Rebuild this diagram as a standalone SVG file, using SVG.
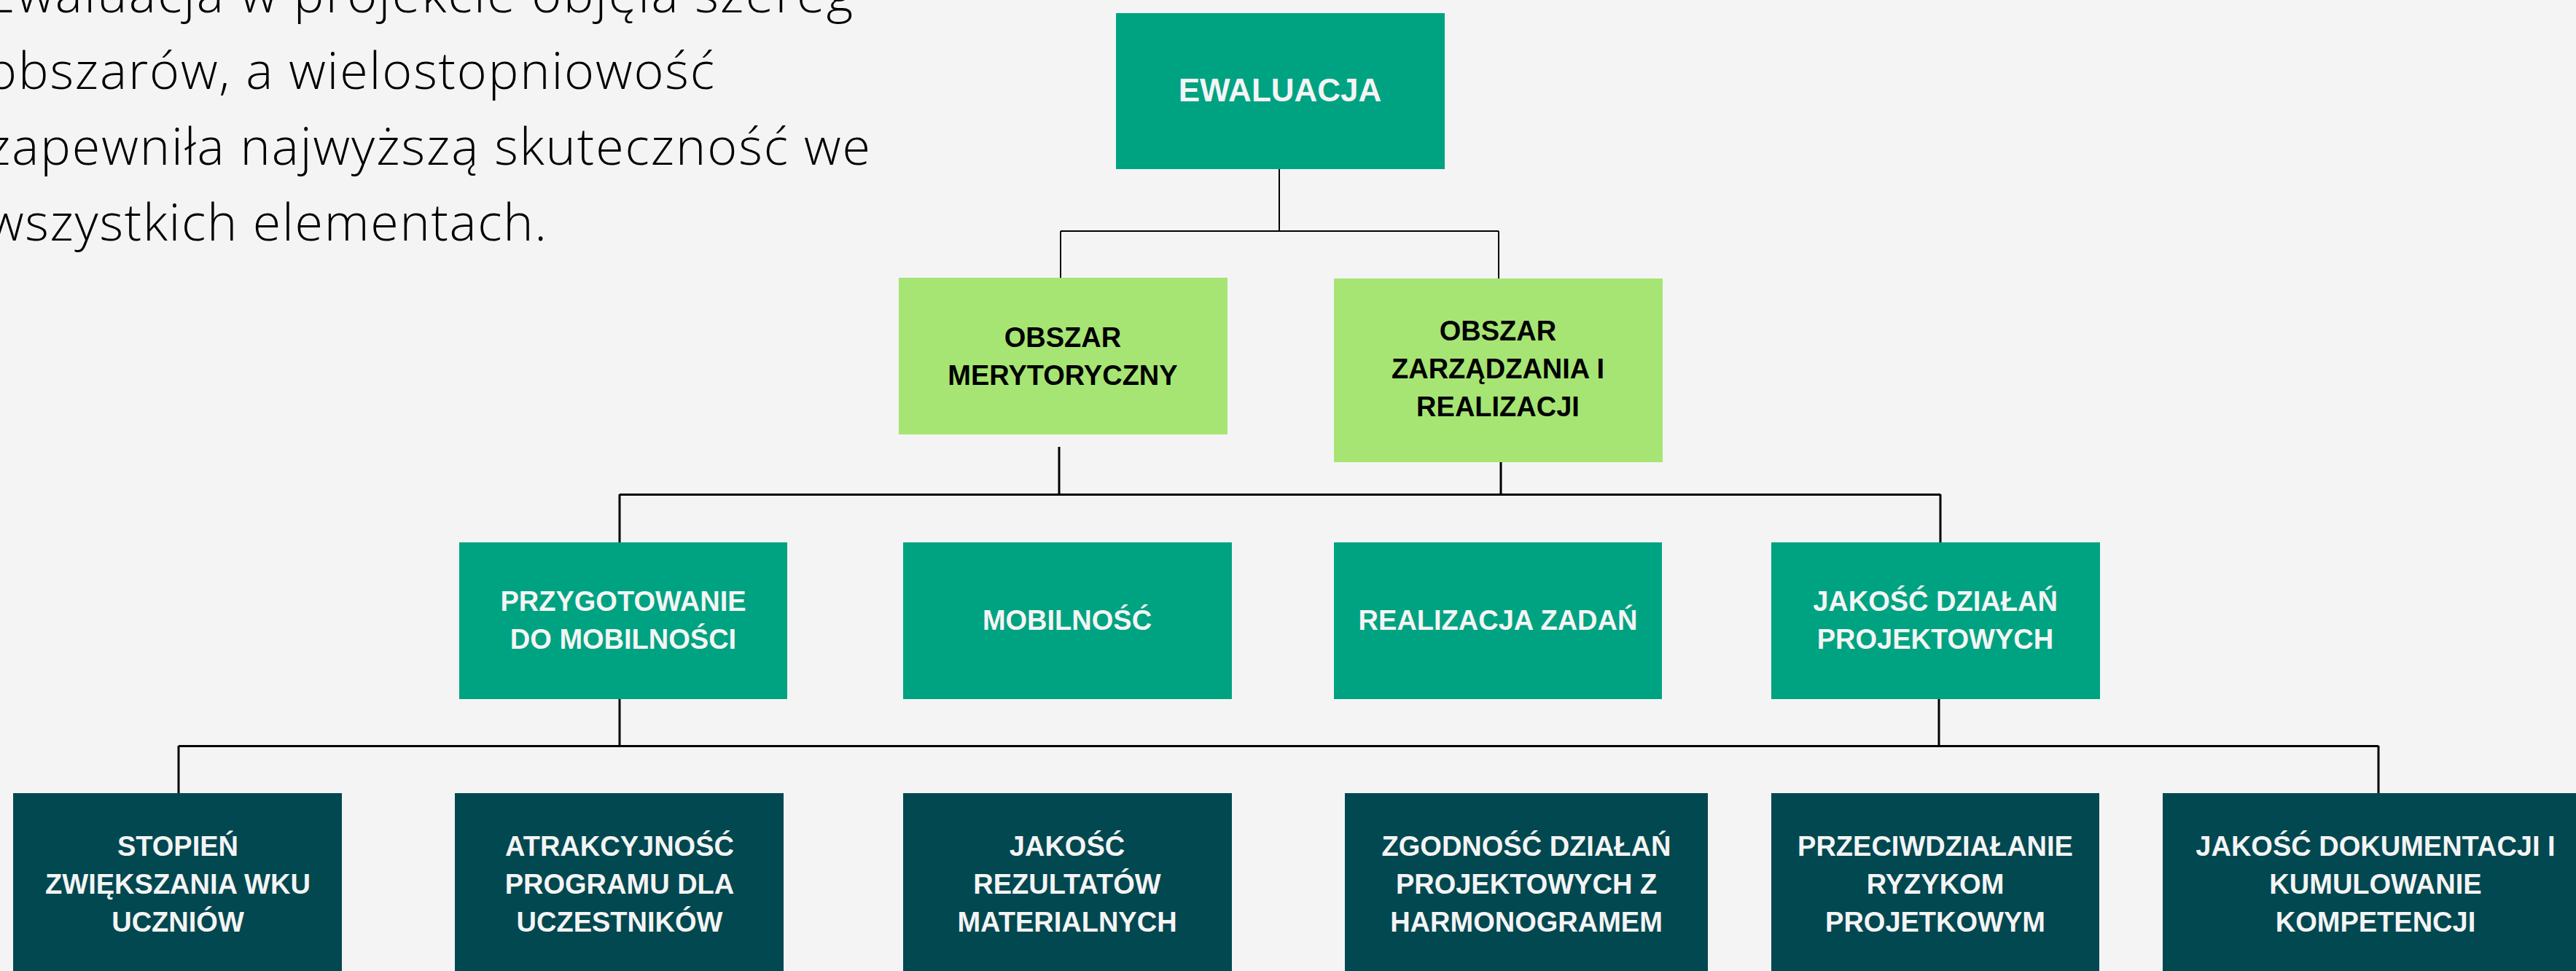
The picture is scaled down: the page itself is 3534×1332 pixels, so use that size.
<svg xmlns="http://www.w3.org/2000/svg" width="3534" height="1332" viewBox="0 0 3534 1332">
<style>
.bg{fill:#F4F4F4}
.teal{fill:#00A381}
.lime{fill:#A6E573}
.dark{fill:#024850}
.lbl{font-family:"Liberation Sans",Arial,sans-serif;font-weight:700;font-size:38px;text-anchor:middle}
.w{fill:#F4F4F4}
.k{fill:#000}
.para{font-family:"Open Sans","Noto Sans",sans-serif;font-weight:300;font-size:70px;fill:#000}
.c1{stroke:#000;stroke-width:2;fill:none}
.c2{stroke:#000;stroke-width:3;fill:none}
</style>
<rect class="bg" x="0" y="0" width="3534" height="1332"/>
<g id="intro">
<text class="para" x="-18" y="17" textLength="1188" lengthAdjust="spacing">Ewaluacja w projekcie objęła szereg</text>
<text class="para" x="-18" y="122" textLength="998" lengthAdjust="spacing">obszarów, a wielostopniowość</text>
<text class="para" x="-18" y="226" textLength="1212" lengthAdjust="spacing">zapewniła najwyższą skuteczność we</text>
<text class="para" x="-18" y="330" textLength="768" lengthAdjust="spacing">wszystkich elementach.</text>
</g>
<g id="connectors">
<path class="c1" d="M1755 232V317M1455 317H2056M1455 317V381M2056 317V382"/>
<path class="c2" d="M1453 613V678M2059 634V678M850 678.5H2662M850 678V744M2662 678V744"/>
<path class="c2" d="M850 959V1023M2660 959V1023M245 1023.5H3263M245 1023V1088M3263 1023V1088"/>
</g>
<g id="ewaluacja">
<rect class="teal" x="1531" y="18" width="451" height="214"/>
<text class="lbl w" x="1756" y="139" style="font-size:44px">EWALUACJA</text>
</g>
<g id="obszar-merytoryczny">
<rect class="lime" x="1233" y="381" width="451" height="215"/>
<text class="lbl k" x="1458" y="476">OBSZAR</text>
<text class="lbl k" x="1458" y="528">MERYTORYCZNY</text>
</g>
<g id="obszar-zarzadzania">
<rect class="lime" x="1830" y="382" width="451" height="252"/>
<text class="lbl k" x="2055" y="467">OBSZAR</text>
<text class="lbl k" x="2055" y="519">ZARZĄDZANIA I</text>
<text class="lbl k" x="2055" y="571">REALIZACJI</text>
</g>
<g id="przygotowanie">
<rect class="teal" x="630" y="744" width="450" height="215"/>
<text class="lbl w" x="855" y="838">PRZYGOTOWANIE</text>
<text class="lbl w" x="855" y="890">DO MOBILNOŚCI</text>
</g>
<g id="mobilnosc">
<rect class="teal" x="1239" y="744" width="451" height="215"/>
<text class="lbl w" x="1464" y="864">MOBILNOŚĆ</text>
</g>
<g id="realizacja-zadan">
<rect class="teal" x="1830" y="744" width="450" height="215"/>
<text class="lbl w" x="2055" y="864">REALIZACJA ZADAŃ</text>
</g>
<g id="jakosc-dzialan">
<rect class="teal" x="2430" y="744" width="451" height="215"/>
<text class="lbl w" x="2655" y="838">JAKOŚĆ DZIAŁAŃ</text>
<text class="lbl w" x="2655" y="890">PROJEKTOWYCH</text>
</g>
<g id="stopien">
<rect class="dark" x="18" y="1088" width="451" height="260"/>
<text class="lbl w" x="244" y="1174">STOPIEŃ</text>
<text class="lbl w" x="244" y="1226">ZWIĘKSZANIA WKU</text>
<text class="lbl w" x="244" y="1278">UCZNIÓW</text>
</g>
<g id="atrakcyjnosc">
<rect class="dark" x="624" y="1088" width="451" height="260"/>
<text class="lbl w" x="850" y="1174">ATRAKCYJNOŚĆ</text>
<text class="lbl w" x="850" y="1226">PROGRAMU DLA</text>
<text class="lbl w" x="850" y="1278">UCZESTNIKÓW</text>
</g>
<g id="jakosc-rezultatow">
<rect class="dark" x="1239" y="1088" width="451" height="260"/>
<text class="lbl w" x="1464" y="1174">JAKOŚĆ</text>
<text class="lbl w" x="1464" y="1226">REZULTATÓW</text>
<text class="lbl w" x="1464" y="1278">MATERIALNYCH</text>
</g>
<g id="zgodnosc">
<rect class="dark" x="1845" y="1088" width="498" height="260"/>
<text class="lbl w" x="2094" y="1174">ZGODNOŚĆ DZIAŁAŃ</text>
<text class="lbl w" x="2094" y="1226">PROJEKTOWYCH Z</text>
<text class="lbl w" x="2094" y="1278">HARMONOGRAMEM</text>
</g>
<g id="przeciwdzialanie">
<rect class="dark" x="2430" y="1088" width="450" height="260"/>
<text class="lbl w" x="2655" y="1174">PRZECIWDZIAŁANIE</text>
<text class="lbl w" x="2655" y="1226">RYZYKOM</text>
<text class="lbl w" x="2655" y="1278">PROJETKOWYM</text>
</g>
<g id="jakosc-dokumentacji">
<rect class="dark" x="2967" y="1088" width="584" height="260"/>
<text class="lbl w" x="3259" y="1174">JAKOŚĆ DOKUMENTACJI I</text>
<text class="lbl w" x="3259" y="1226">KUMULOWANIE</text>
<text class="lbl w" x="3259" y="1278">KOMPETENCJI</text>
</g>
</svg>
